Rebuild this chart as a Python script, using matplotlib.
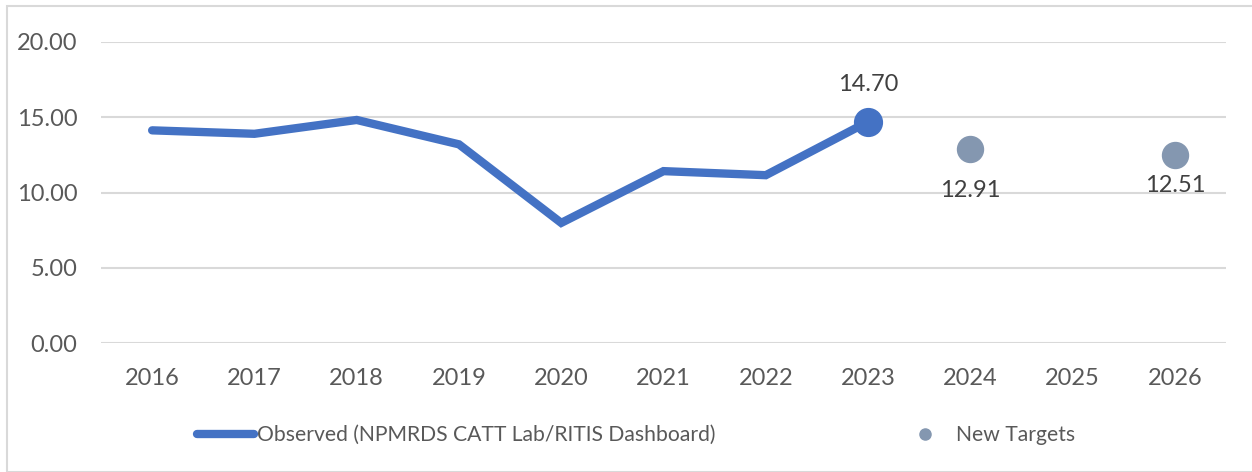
import matplotlib
matplotlib.use("Agg")
import matplotlib.pyplot as plt
from matplotlib.lines import Line2D
from matplotlib.patches import Rectangle

plt.rcParams['font.family'] = ['Lato', 'DejaVu Sans']

years = ["2016", "2017", "2018", "2019", "2020", "2021", "2022", "2023", "2024", "2025", "2026"]
observed_years = ["2016", "2017", "2018", "2019", "2020", "2021", "2022", "2023"]
observed = [14.13, 13.90, 14.82, 13.20, 7.98, 11.42, 11.15, 14.70]
target_years = ["2024", "2026"]
targets = [12.91, 12.51]
yticks = [0, 5, 10, 15, 20]

line_color = "#4472C4"
target_color = "#8497B0"
text_color = "#595959"
grid_color = "#D9D9D9"

fig = plt.figure(figsize=(12.52, 4.72), dpi=100)
ax = fig.add_axes([101/1252, 1-343/472, 1125/1252, (343-42)/472])

xpos = {y: i for i, y in enumerate(years)}
ox = [xpos[y] for y in observed_years]
tx = [xpos[y] for y in target_years]

ax.plot(ox, observed, color=line_color, lw=6, solid_capstyle='round', solid_joinstyle='miter', zorder=3)
ax.plot(ox[-1], observed[-1], 'o', color=line_color, ms=20, zorder=4)
ax.plot(tx, targets, 'o', color=target_color, ms=18.7, zorder=4, lw=0)

ax.annotate(f"{observed[-1]:.2f}", (ox[-1], observed[-1]), xytext=(0, 27), textcoords='offset points',
            ha='center', va='center', fontsize=17, color="#404040")
for x, v, off in zip(tx, targets, [-30, -22]):
    ax.annotate(f"{v:.2f}", (x, v), xytext=(0, off), textcoords='offset points',
                ha='center', va='center', fontsize=17, color="#404040")

ax.set_xlim(-0.5, len(years) - 0.5)
ax.set_ylim(0, 20)
ax.set_yticks(yticks)
ax.set_yticklabels([f"{v:.2f}" for v in yticks])
ax.set_xticks(range(len(years)))
ax.set_xticklabels(years)
ax.tick_params(axis='both', length=0, labelsize=17, labelcolor=text_color)
ax.tick_params(axis='y', pad=17)
ax.tick_params(axis='x', pad=18)
ax.grid(axis='y', color=grid_color, lw=1.5)
ax.set_axisbelow(True)
for s in ax.spines.values():
    s.set_visible(False)

handles = [Line2D([], [], color=line_color, lw=6, solid_capstyle='round'),
           Line2D([], [], marker='o', color=target_color, ms=8, lw=0)]
leg = fig.legend(handles, ["Observed (NPMRDS CATT Lab/RITIS Dashboard)", "New Targets"],
                 loc='center left', bbox_to_anchor=(199/1252 - 0.0016, 1-435/472), ncol=2, frameon=False,
                 fontsize=15.2, handlelength=2.7, handletextpad=0.15, columnspacing=8.55,
                 labelcolor=text_color, borderpad=0, borderaxespad=0)

fig.patches.append(Rectangle((7/1252, 0), 1.0, 1-6/472, transform=fig.transFigure,
                             fill=False, edgecolor=grid_color, lw=1.5))

fig.savefig("out.png", dpi=100, facecolor='white')
